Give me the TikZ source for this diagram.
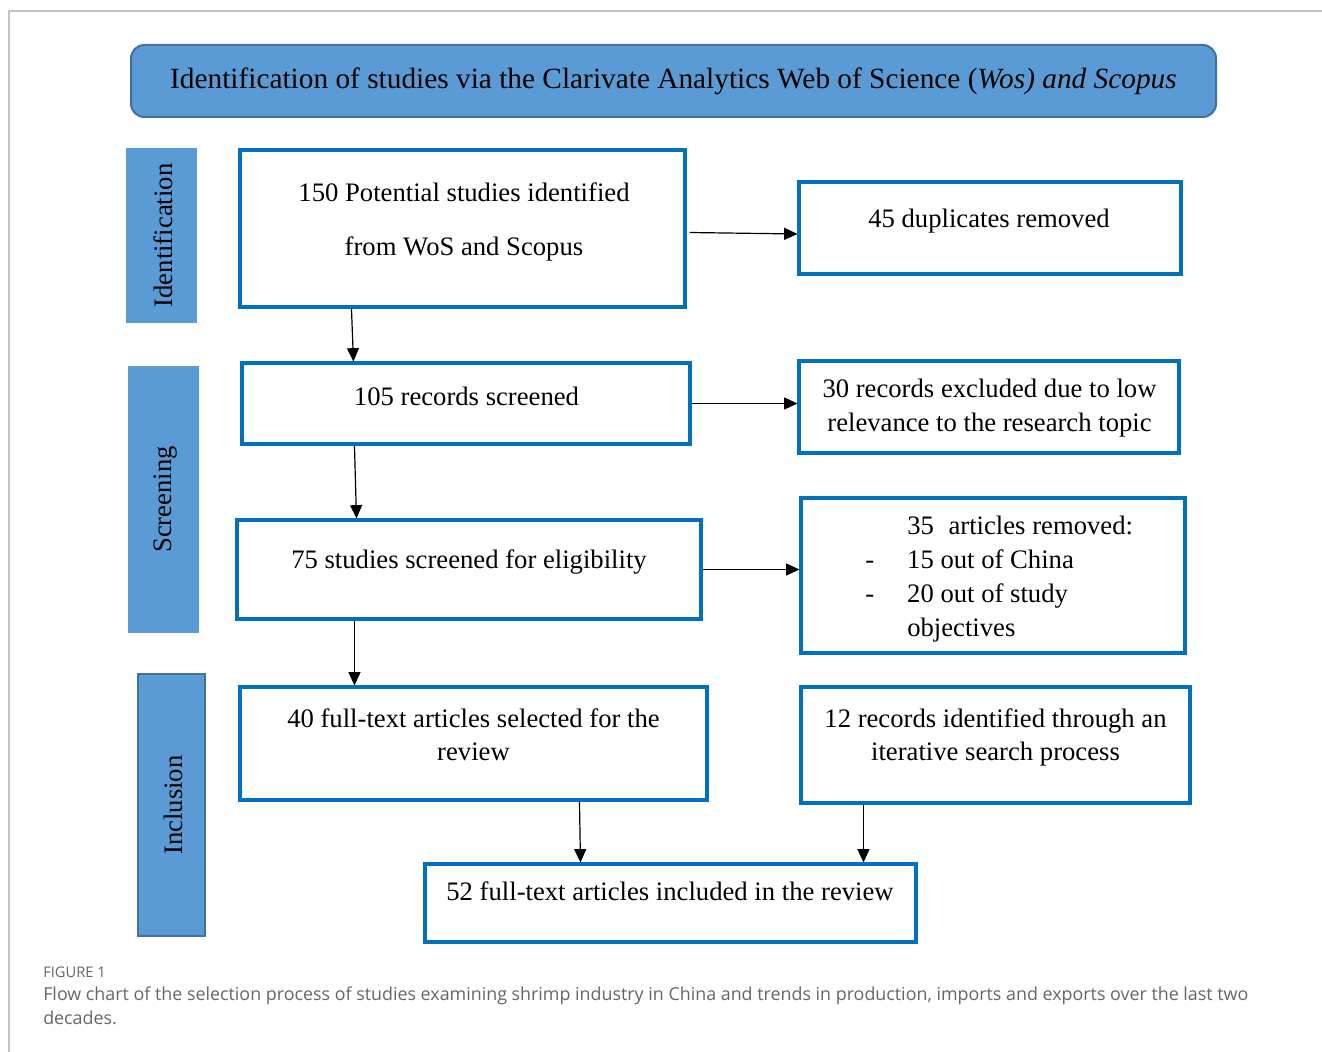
\documentclass[tikz,border=0pt]{standalone}
\usepackage{fontspec}
\setmainfont{Liberation Serif}
\newfontfamily\capfont{Open Sans}
\usetikzlibrary{arrows.meta,calc,fit}
\definecolor{hdrfill}{HTML}{5B9BD5}
\definecolor{hdrline}{HTML}{41719C}
\definecolor{boxline}{HTML}{0070C0}
\definecolor{capgray}{HTML}{666666}
\definecolor{framegray}{HTML}{C4C4C4}
\begin{document}
\begin{tikzpicture}[x=0.75pt,y=-0.75pt,
  box/.style={draw=boxline, line width=2.3pt, fill=white, inner sep=0pt},
  side/.style={fill=hdrfill, inner sep=0pt},
  hdr/.style={fill=hdrfill, draw=hdrline, line width=1.5pt, rounded corners=10pt, inner sep=0pt},
  txt/.style={font=\fontsize{20pt}{25.5pt}\selectfont, inner sep=0pt, align=center},
  sidetxt/.style={font=\fontsize{20pt}{24pt}\selectfont, inner sep=0pt, rotate=90},
  arr/.style={-{Triangle[length=10pt,width=9pt]}, line width=0.9pt, black},
  captxt/.style={capgray, inner sep=0pt, align=left}]
\useasboundingbox (0,0) rectangle (1322,1052);
\fill[white] (0,0) rectangle (1322,1052);
\draw[framegray, line width=0.9pt] (9,1052) -- (9,11) -- (1322,11);

% header
\node[hdr, fit={(131,45)(1216,117)}] (hdr) {};
\node[inner sep=0pt, font=\fontsize{22pt}{26pt}\selectfont] (hdrt) at (673.5,81)
  {Identification of studies via the Clarivate Analytics Web of Science (\textit{Wos) and Scopus}};

% side labels
\node[side, fit={(126,148)(197,323)}] (s1) {};
\node[sidetxt] (s1t) at ($(s1.center)+(2,0)$) {Identification};
\node[side, fit={(128,366)(199,633)}] (s2) {};
\node[sidetxt] (s2t) at ($(s2.center)+(2,0)$) {Screening};
\node[side, draw=hdrline, line width=1.5pt, fit={(138,674)(205,936)}] (s3) {};
\node[sidetxt] (s3t) at ($(s3.center)+(2,0)$) {Inclusion};

% boxes
\node[box, fit={(240,150)(685,307)}] (b1) {};
\node[txt, font=\fontsize{20pt}{40.5pt}\selectfont] (b1t) at (464,221.5) {150 Potential studies identified\\from WoS and Scopus};
\node[box, fit={(799,182)(1181,274)}] (r1) {};
\node[txt] (r1t) at (989,221.5) {45 duplicates removed};
\node[box, fit={(242,363)(690,444)}] (b2) {};
\node[txt] (b2t) at (466.5,396) {105 records screened};
\node[box, fit={(799,361)(1179,453)}] (r2) {};
\node[txt] (r2t) at (989.5,408.5) {30 records excluded due to low\\relevance to the research topic};
\node[box, fit={(237,520)(701,619)}] (b3) {};
\node[txt] (b3t) at (469,562) {75 studies screened for eligibility};
\node[box, fit={(801,498)(1185,653)}] (r3) {};
\node[txt, align=left, anchor=west, font=\fontsize{20pt}{25.3pt}\selectfont] (r3t) at (865,579)
  {\makebox[31.5pt][l]{}35\hspace{11pt}articles removed:\\
   \makebox[31.5pt][l]{-}15 out of China\\
   \makebox[31.5pt][l]{-}20 out of study\\
   \makebox[31.5pt][l]{}objectives};
\node[box, fit={(240,687)(707,800)}] (b4) {};
\node[txt, font=\fontsize{20pt}{24.75pt}\selectfont] (b4t) at (473.5,735) {40 full-text articles selected for the\\review};
\node[box, fit={(801,687)(1190,803)}] (r4) {};
\node[txt, font=\fontsize{20pt}{24.75pt}\selectfont] (r4t) at (995.5,737.5) {12 records identified through an\\iterative search process};
\node[box, fit={(425,864)(916,942)}] (b5) {};
\node[txt] (b5t) at (670,891.5) {52 full-text articles included in the review};

% connectors
\draw[arr] ($(b1.east)+(3,4)$) -- ($(r1.west)+(0,6)$);
\draw[arr] ($(b1.south west)+(113,0)$) -- ($(b2.north west)+(113,0)$);
\draw[arr] (b2.east) -- (r2.west |- b2.east);
\draw[arr] ($(b2.south west)+(114,0)$) -- ($(b3.north west)+(121,0)$);
\draw[arr] (b3.east) -- (r3.west |- b3.east);
\draw[arr] ($(b3.south west)+(119,0)$) -- ($(b4.north west)+(116,0)$);
\draw[arr] ($(b4.south west)+(341,0)$) -- ($(b5.north west)+(157,0)$);
\draw[arr] ($(r4.south west)+(64,0)$) -- ($(b5.north west)+(440,0)$);

% caption
\node[captxt, anchor=west, font=\capfont\fontsize{11pt}{13pt}\selectfont] (figlbl) at (43,972) {FIGURE 1};
\node[captxt, anchor=north west, font=\capfont\fontsize{13.4pt}{18pt}\selectfont] (cap) at (43,987)
  {Flow chart of the selection process of studies examining shrimp industry in China and trends in production, imports and exports over the last two\\decades.};
\end{tikzpicture}
\end{document}
